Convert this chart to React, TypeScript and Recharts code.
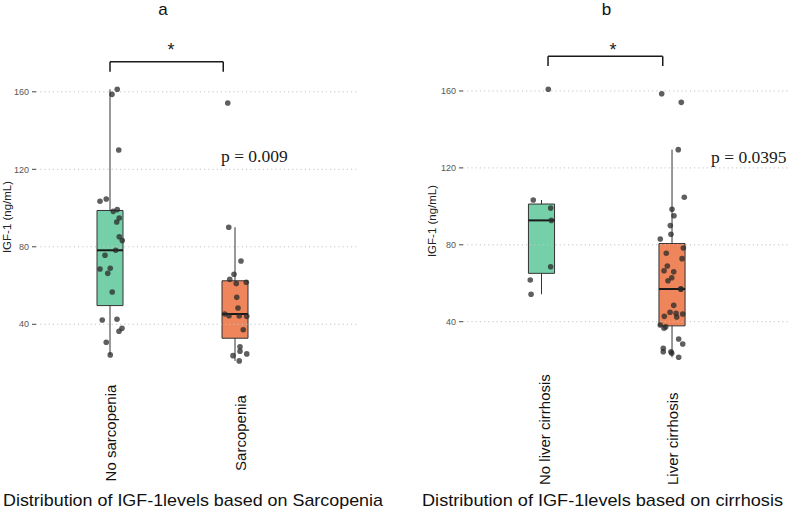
import React from 'react';
import {
  ComposedChart,
  XAxis,
  YAxis,
  CartesianGrid,
  Scatter,
  ReferenceArea,
  ReferenceLine,
  ReferenceDot,
} from 'recharts';

// ---------------- data ----------------
const yTicks = [40, 80, 120, 160];

const sarcopeniaCategories = ['No sarcopenia', 'Sarcopenia'];
const noSarcopeniaIGF1 = [161.3, 158.7, 130, 104.7, 103.5, 99.2, 98.3, 94.9, 92.8, 85.2, 83.2, 78.2, 75.6, 68.9, 68.5, 66.3, 56.7, 42.6, 42.2, 37.9, 36.4, 30.7, 24.2];
const noSarcopeniaJitter = [0.058, 0.016, 0.07, -0.03, -0.08, 0.058, 0.026, 0.074, 0.054, 0.074, 0.098, 0.046, -0.04, 0.002, -0.08, -0.018, 0.018, 0.056, -0.062, 0.096, 0.072, -0.03, 0.002];
const sarcopeniaIGF1 = [154.2, 90.1, 72.7, 65.8, 63.2, 61.7, 61, 53.9, 48.4, 45.3, 44.4, 44.3, 44.1, 37.2, 28.4, 26.1, 24.7, 23.8, 21.1];
const sarcopeniaJitter = [-0.058, -0.05, 0.048, -0.008, -0.042, 0.09, 0.01, 0.014, 0.024, -0.082, -0.048, 0.034, 0.094, 0.066, 0.04, 0.04, 0.094, -0.016, 0.034];

const cirrhosisCategories = ['No liver cirrhosis', 'Liver cirrhosis'];
const noCirrhosisIGF1 = [160.9, 103.3, 99.1, 92.7, 68.6, 61.7, 54.3];
const noCirrhosisJitter = [0.052, -0.063, 0.07, 0.075, 0.07, -0.086, -0.08];
const cirrhosisIGF1 = [158.6, 154.1, 129.5, 104.7, 98.5, 95.1, 90, 85.5, 83, 78.3, 75.6, 72.8, 69, 66.5, 66, 62.9, 61.3, 57, 57, 48.5, 44.9, 44.4, 44, 42.8, 42.4, 38.3, 37.4, 36.6, 31, 28.4, 26.2, 24.4, 24.4, 23.6, 21.5];
const cirrhosisJitter = [-0.079, 0.071, 0.048, 0.094, 0, 0.015, -0.013, -0.008, -0.09, 0.087, -0.044, 0.077, -0.036, -0.061, 0.013, -0.002, -0.031, 0.069, 0.066, 0.013, -0.015, 0.031, 0.082, -0.059, 0.036, -0.09, -0.048, -0.061, 0.051, 0.082, -0.067, -0.067, -0.008, -0.002, 0.051];

const panelTitles = ['a', 'b'];
const pValueLabels = ['p = 0.009', 'p = 0.0395'];
const significanceLabel = '*';
const axisTitle = 'IGF-1 (ng/mL)';
const captions = [
  'Distribution of IGF-1levels based on Sarcopenia',
  'Distribution of IGF-1levels based on cirrhosis',
];

// annotation anchors in data units (category position, IGF-1 value)
const bracketA = { x1: 1.0, x2: 1.906, y: 175.5, yTip: 170.4 };
const bracketB = { x1: 1.05, x2: 1.929, y: 178.0, yTip: 173.0 };
const starA = { x: 1.488, y: 178.5 };
const starB = { x: 1.548, y: 178.2 };
const pTextA = { x: 1.888, y: 123.8 };
const pTextB = { x: 2.299, y: 122.5 };

// ---------------- helpers ----------------
function quantile(sorted: number[], p: number) {
  const h = (sorted.length - 1) * p;
  const lo = Math.floor(h);
  const hi = Math.min(lo + 1, sorted.length - 1);
  return sorted[lo] + (h - lo) * (sorted[hi] - sorted[lo]);
}

function boxStats(values: number[]) {
  const s = [...values].sort((a, b) => a - b);
  const q1 = quantile(s, 0.25);
  const med = quantile(s, 0.5);
  const q3 = quantile(s, 0.75);
  const iqr = q3 - q1;
  const lo = s.find((v) => v >= q1 - 1.5 * iqr) as number;
  const hi = [...s].reverse().find((v) => v <= q3 + 1.5 * iqr) as number;
  return { q1, med, q3, lo, hi };
}

const GREEN = '#75d0a9';
const ORANGE = '#ef855b';
const LINE = '#333333';
const SANS = '"Liberation Sans", Arial, sans-serif';
const SERIF = '"Liberation Serif", "Times New Roman", serif';

type Group = { values: number[]; jitter: number[]; fill: string };

type PanelProps = {
  left: number;
  width: number;
  height: number;
  margin: { top: number; right: number; bottom: number; left: number };
  yAxisWidth: number;
  xDomain: [number, number];
  categories: string[];
  groups: Group[];
  boxHalf: number;
  bracket: { x1: number; x2: number; y: number; yTip: number };
  star: { x: number; y: number };
  pText: { x: number; y: number; label: string };
  labelMode: 'center' | 'bottom';
  labelDx: number[];
};

function Panel(props: PanelProps) {
  const { groups, boxHalf, categories } = props;
  const points = groups.flatMap((g, gi) =>
    g.values.map((v, i) => ({ x: gi + 1 + g.jitter[i], y: v }))
  );
  const elements: React.ReactNode[] = [];
  // dotted horizontal grid at the y ticks only
  yTicks.forEach((t) => {
    elements.push(
      <ReferenceLine key={`g${t}`} y={t} stroke="#c4c4c4" strokeDasharray="1.2 3" strokeWidth={1} />
    );
  });
  groups.forEach((g, gi) => {
    const c = gi + 1;
    const st = boxStats(g.values);
    elements.push(
      <ReferenceLine
        key={`wl${gi}`}
        segment={[{ x: c, y: st.lo }, { x: c, y: st.q1 }]}
        stroke={LINE}
        strokeWidth={1}
        ifOverflow="visible"
      />,
      <ReferenceLine
        key={`wh${gi}`}
        segment={[{ x: c, y: st.q3 }, { x: c, y: st.hi }]}
        stroke={LINE}
        strokeWidth={1}
        ifOverflow="visible"
      />,
      <ReferenceArea
        key={`box${gi}`}
        x1={c - boxHalf}
        x2={c + boxHalf}
        y1={st.q1}
        y2={st.q3}
        fill={g.fill}
        fillOpacity={1}
        stroke={LINE}
        strokeWidth={1}
        ifOverflow="visible"
      />,
      <ReferenceLine
        key={`med${gi}`}
        segment={[{ x: c - boxHalf, y: st.med }, { x: c + boxHalf, y: st.med }]}
        stroke="#1a1a1a"
        strokeWidth={2}
        ifOverflow="visible"
      />
    );
  });
  const b = props.bracket;
  elements.push(
    <ReferenceLine key="br1" segment={[{ x: b.x1, y: b.y }, { x: b.x2, y: b.y }]} stroke="#1a1a1a" strokeWidth={1.5} ifOverflow="visible" />,
    <ReferenceLine key="br2" segment={[{ x: b.x1, y: b.yTip }, { x: b.x1, y: b.y }]} stroke="#1a1a1a" strokeWidth={1.5} ifOverflow="visible" />,
    <ReferenceLine key="br3" segment={[{ x: b.x2, y: b.yTip }, { x: b.x2, y: b.y }]} stroke="#1a1a1a" strokeWidth={1.5} ifOverflow="visible" />,
    <ReferenceDot
      key="star"
      x={props.star.x}
      y={props.star.y}
      r={0}
      ifOverflow="visible"
      shape={(p: any) => (
        <text x={p.cx} y={p.cy} textAnchor="middle" fontFamily={SANS} fontSize={18} fill="#1a1a1a">
          {significanceLabel}
        </text>
      )}
    />,
    <ReferenceDot
      key="ptext"
      x={props.pText.x}
      y={props.pText.y}
      r={0}
      ifOverflow="visible"
      shape={(p: any) => (
        <text x={p.cx} y={p.cy} textAnchor="start" fontFamily={SERIF} fontSize={17.5} fill="#1a1a1a">
          {props.pText.label}
        </text>
      )}
    />
  );

  const CategoryTick = (tp: any) => {
    const idx = Math.round(tp.payload.value) - 1;
    const x = tp.x + (props.labelDx[idx] || 0);
    const y = props.labelMode === 'center' ? 433 : 485;
    return (
      <text
        x={x}
        y={y}
        transform={`rotate(-90, ${x}, ${y})`}
        textAnchor={props.labelMode === 'center' ? 'middle' : 'start'}
        dominantBaseline="central"
        fontFamily={SANS}
        fontSize={15}
        fill="#111"
      >
        {categories[idx]}
      </text>
    );
  };

  return (
    <div style={{ position: 'absolute', left: props.left, top: 0 }}>
      <ComposedChart width={props.width} height={props.height} margin={props.margin}>
        <XAxis
          type="number"
          dataKey="x"
          domain={props.xDomain}
          ticks={[1, 2]}
          interval={0}
          allowDataOverflow
          axisLine={false}
          tickLine={false}
          height={100}
          tick={CategoryTick}
        />
        <YAxis
          type="number"
          dataKey="y"
          domain={[10, 190]}
          ticks={yTicks}
          interval={0}
          allowDataOverflow
          width={props.yAxisWidth}
          axisLine={false}
          tickSize={4}
          tickMargin={3}
          tickLine={{ stroke: '#444' }}
          tick={{ fontSize: 9, fill: '#555', fontFamily: SANS }}
        />
        {elements}
        <Scatter
          data={points}
          dataKey="y"
          isAnimationActive={false}
          shape={(p: any) => <circle cx={p.cx} cy={p.cy} r={2.8} fill="#2a2a2a" fillOpacity={0.75} />}
        />
      </ComposedChart>
    </div>
  );
}

export default function App() {
  return (
    <div style={{ position: 'absolute', left: 0, top: 0, width: 791, height: 510, background: '#fff', overflow: 'hidden' }}>
      <Panel
        left={0}
        width={395}
        height={510}
        margin={{ top: 33.7, right: 37, bottom: 27.6, left: 0 }}
        yAxisWidth={36}
        xDomain={[0.408, 2.984]}
        categories={sarcopeniaCategories}
        groups={[
          { values: noSarcopeniaIGF1, jitter: noSarcopeniaJitter, fill: GREEN },
          { values: sarcopeniaIGF1, jitter: sarcopeniaJitter, fill: ORANGE },
        ]}
        boxHalf={0.104}
        bracket={bracketA}
        star={starA}
        pText={{ ...pTextA, label: pValueLabels[0] }}
        labelMode="center"
        labelDx={[0, 5]}
      />
      <Panel
        left={395}
        width={396}
        height={510}
        margin={{ top: 33.3, right: 1, bottom: 30.6, left: 28 }}
        yAxisWidth={40}
        xDomain={[0.3985, 2.904]}
        categories={cirrhosisCategories}
        groups={[
          { values: noCirrhosisIGF1, jitter: noCirrhosisJitter, fill: GREEN },
          { values: cirrhosisIGF1, jitter: cirrhosisJitter, fill: ORANGE },
        ]}
        boxHalf={0.1}
        bracket={bracketB}
        star={starB}
        pText={{ ...pTextB, label: pValueLabels[1] }}
        labelMode="bottom"
        labelDx={[2.5, 0]}
      />
      <svg width={791} height={510} style={{ position: 'absolute', left: 0, top: 0, pointerEvents: 'none' }}>
        <text x={163} y={15} textAnchor="middle" fontFamily={SANS} fontSize={17} fill="#111">{panelTitles[0]}</text>
        <text x={606.5} y={15} textAnchor="middle" fontFamily={SANS} fontSize={17} fill="#111">{panelTitles[1]}</text>
        <text x={7} y={217} transform="rotate(-90, 7, 217)" textAnchor="middle" dominantBaseline="central" fontFamily={SANS} fontSize={11.5} fill="#222">{axisTitle}</text>
        <text x={432} y={221} transform="rotate(-90, 432, 221)" textAnchor="middle" dominantBaseline="central" fontFamily={SANS} fontSize={11.5} fill="#222">{axisTitle}</text>
        <text x={3} y={506} fontFamily={SANS} fontSize={17} fill="#111" textLength={380} lengthAdjust="spacingAndGlyphs">{captions[0]}</text>
        <text x={422} y={506} fontFamily={SANS} fontSize={17} fill="#111" textLength={361} lengthAdjust="spacingAndGlyphs">{captions[1]}</text>
      </svg>
    </div>
  );
}
